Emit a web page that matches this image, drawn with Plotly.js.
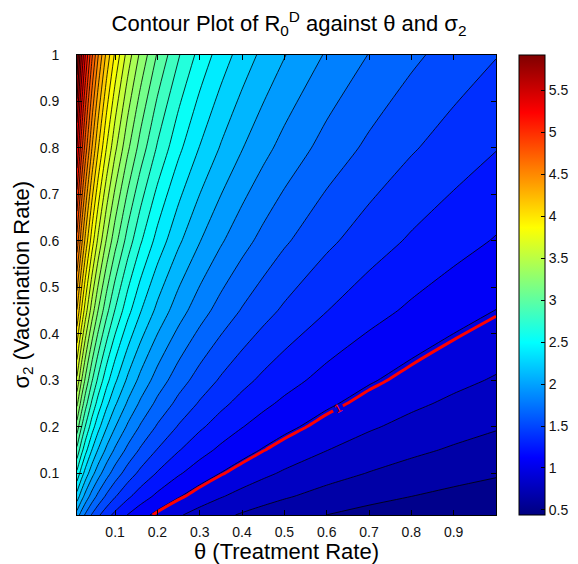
<!DOCTYPE html>
<html><head><meta charset="utf-8">
<script src="https://cdn.plot.ly/plotly-3.0.1.min.js"></script>
<style>html,body{margin:0;padding:0;background:#fff}#chart{width:578px;height:564px}</style>
</head><body><div id="chart"></div>
<script>
// θ (treatment rate) grid — columns
const theta = [0.01,0.02,0.03,0.045,0.06,0.08,0.1,0.13,0.16,0.2,0.25,0.3,0.35,0.4,0.45,0.5,0.6,0.7,0.8,0.9,1.0];
// σ2 (vaccination rate) grid — rows
const sigma2 = [0.01,0.05,0.1,0.15,0.2,0.25,0.3,0.45,0.6,0.8,1.0];
// R0^D values, one row per σ2 value
const r0d_s001 = [1.959,1.827,1.717,1.583,1.475,1.359,1.266,1.154,1.067,0.974,0.885,0.815,0.758,0.710,0.670,0.636,0.579,0.533,0.496,0.465,0.438];
const r0d_s005 = [2.253,2.102,1.976,1.823,1.700,1.567,1.460,1.333,1.232,1.127,1.024,0.944,0.879,0.825,0.779,0.740,0.674,0.622,0.580,0.544,0.514];
const r0d_s010 = [2.575,2.403,2.260,2.086,1.946,1.795,1.673,1.528,1.414,1.294,1.177,1.086,1.012,0.951,0.899,0.853,0.779,0.720,0.672,0.631,0.596];
const r0d_s015 = [2.862,2.671,2.514,2.321,2.165,1.998,1.863,1.703,1.576,1.443,1.314,1.213,1.131,1.063,1.005,0.955,0.873,0.807,0.754,0.709,0.670];
const r0d_s020 = [3.123,2.916,2.744,2.534,2.365,2.183,2.036,1.861,1.724,1.578,1.438,1.328,1.239,1.165,1.102,1.047,0.958,0.887,0.828,0.779,0.737];
const r0d_s025 = [3.365,3.142,2.957,2.732,2.549,2.354,2.196,2.008,1.860,1.704,1.553,1.435,1.339,1.259,1.191,1.133,1.037,0.960,0.897,0.844,0.799];
const r0d_s030 = [3.591,3.353,3.157,2.916,2.722,2.514,2.346,2.145,1.987,1.821,1.660,1.534,1.432,1.347,1.275,1.213,1.110,1.029,0.962,0.905,0.857];
const r0d_s045 = [4.198,3.921,3.692,3.412,3.186,2.943,2.747,2.514,2.330,2.136,1.949,1.802,1.683,1.584,1.500,1.427,1.308,1.213,1.135,1.069,1.013];
const r0d_s060 = [4.729,4.418,4.160,3.845,3.591,3.318,3.098,2.836,2.629,2.412,2.201,2.036,1.902,1.791,1.697,1.615,1.481,1.374,1.286,1.213,1.150];
const r0d_s080 = [5.357,5.006,4.714,4.358,4.071,3.762,3.514,3.217,2.984,2.737,2.500,2.313,2.162,2.036,1.929,1.837,1.685,1.565,1.465,1.382,1.311];
const r0d_s100 = [5.920,5.532,5.211,4.818,4.501,4.160,3.886,3.559,3.301,3.030,2.767,2.561,2.395,2.256,2.138,2.036,1.869,1.735,1.626,1.534,1.456];
const xTickVals = [0.1,0.2,0.3,0.4,0.5,0.6,0.7,0.8,0.9];
const xTickText = ['0.1','0.2','0.3','0.4','0.5','0.6','0.7','0.8','0.9'];
const yTickVals = [0.1,0.2,0.3,0.4,0.5,0.6,0.7,0.8,0.9,1];
const yTickText = ['0.1','0.2','0.3','0.4','0.5','0.6','0.7','0.8','0.9','1'];
const cbTickVals = [0.5,1,1.5,2,2.5,3,3.5,4,4.5,5,5.5];
const cbTickText = ['0.5','1','1.5','2','2.5','3','3.5','4','4.5','5','5.5'];
const thresholdLevel = 1;

const z = [r0d_s001,r0d_s005,r0d_s010,r0d_s015,r0d_s020,r0d_s025,r0d_s030,r0d_s045,r0d_s060,r0d_s080,r0d_s100];

const CMIN = 0.44, CMAX = 5.92;
const LSTART = 0.58, LEND = 5.8, LSIZE = 0.145;

function clamp(v){return Math.max(0,Math.min(1,v));}
function jet(s){
  const r = clamp(1.5-Math.abs(4*s-3)), g = clamp(1.5-Math.abs(4*s-2)), b = clamp(1.5-Math.abs(4*s-1));
  return 'rgb('+Math.round(r*255)+','+Math.round(g*255)+','+Math.round(b*255)+')';
}
const barScale = [];
for(let i=0;i<=64;i++){ barScale.push([i/64, jet(i/64)]); }
const nc = Math.floor((LEND + LSIZE/10 - LSTART)/LSIZE) + 1;
const D0 = LSTART - LSIZE/2, D1 = D0 + LSIZE*nc;
const fillScale = [];
for(let i=0;i<=80;i++){
  const f = i/80, v = D0 + f*(D1-D0);
  fillScale.push([f, jet(clamp((v-CMIN)/(CMAX-CMIN)))]);
}

const font = 'Liberation Sans, Arial, sans-serif';

const traces = [
  {type:'contour', x:theta, y:sigma2, z:z, colorscale:fillScale,
   contours:{start:LSTART,end:LEND,size:LSIZE,coloring:'fill'},
   line:{color:'#000',width:0.8, smoothing:0.6}, showscale:false, hoverinfo:'skip'},
  {type:'contour', x:theta, y:sigma2, z:z,
   contours:{start:thresholdLevel,end:thresholdLevel,size:0.5,coloring:'lines',showlabels:true,
     labelfont:{color:'#ff0000',size:12,family:font}},
   line:{color:'#ff0000',width:3, smoothing:0.6}, colorscale:[[0,'#ff0000'],[1,'#ff0000']],
   showscale:false, hoverinfo:'skip'},
  {type:'scatter', mode:'markers', x:[null], y:[null], showlegend:false, hoverinfo:'skip',
   marker:{color:[CMIN], cmin:CMIN, cmax:CMAX, colorscale:barScale, showscale:true,
     colorbar:{xref:'container', x:0.898, xanchor:'left', y:0.5, yanchor:'middle', len:1, lenmode:'fraction',
       thickness:26, thicknessmode:'pixels', xpad:0, ypad:0, outlinewidth:1, outlinecolor:'#000',
       ticks:'inside', ticklen:4, tickcolor:'#000', tickvals:cbTickVals, ticktext:cbTickText,
       tickfont:{size:14,family:font,color:'#111'}}}}
];

const axisCommon = {ticks:'inside', ticklen:5, tickcolor:'#000', showline:true, linecolor:'#000',
  linewidth:1, mirror:'ticks', showgrid:false, zeroline:false, tickfont:{size:14,family:font,color:'#111'}};

const layout = {
  width:578, height:564, paper_bgcolor:'#fff', plot_bgcolor:'#fff', showlegend:false,
  margin:{l:77,r:82,t:55,b:49},
  font:{family:font,color:'#000'},
  title:{text:'Contour Plot of R<sub>0</sub><sup>D</sup> against θ and σ<sub>2</sub>',
    font:{size:22,family:font,color:'#000'}, x:0.5, xanchor:'center', y:0.958, yanchor:'middle'},
  xaxis:Object.assign({}, axisCommon, {range:[0.01,1], tickvals:xTickVals, ticktext:xTickText,
    ticklabelstandoff:4,
    title:{text:'θ (Treatment Rate)', font:{size:22,family:font,color:'#000'}, standoff:3}}),
  yaxis:Object.assign({}, axisCommon, {range:[0.01,1], tickvals:yTickVals, ticktext:yTickText,
    ticklabelstandoff:14}),
  annotations:[{text:'σ<sub>2</sub> (Vaccination Rate)', xref:'paper', yref:'paper', x:-0.13, y:0.5,
    xanchor:'center', yanchor:'middle', textangle:-90, showarrow:false,
    font:{size:22,family:font,color:'#000'}}]
};

Plotly.newPlot('chart', traces, layout, {displayModeBar:false, staticPlot:true});
</script>
</body></html>
